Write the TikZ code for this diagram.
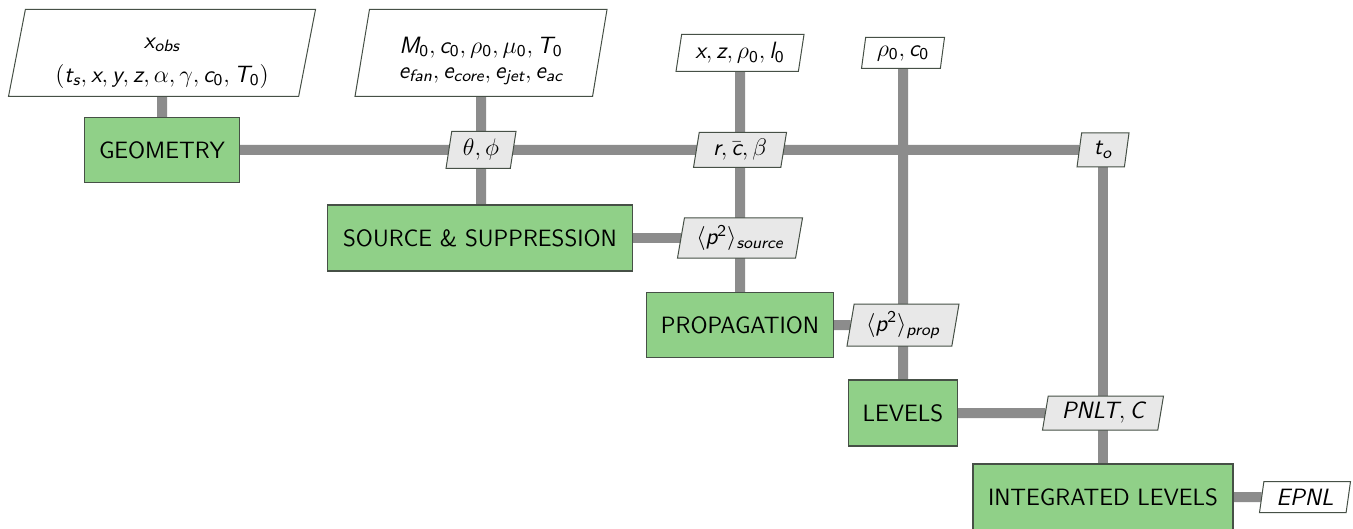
\documentclass[tikz,border=0pt]{standalone}
\usepackage{amsmath}
\usetikzlibrary{shapes.geometric,backgrounds}
\renewcommand\familydefault{\sfdefault}
% sans italic letters and upright sans digits inside formulas
\newcommand\mi[1]{\text{\itshape #1}}
\newcommand\zr{\text{0}}
\newcommand\labelfont{\fontsize{11.8}{14.5}\selectfont}
% two centred lines (#2 extra gap between them), shifted by #1 inside their box
\newcommand\twolines[4]{\raisebox{#1}[\height][\depth]{\begin{tabular}{@{}c@{}}#3\\[#2]#4\end{tabular}}}

\definecolor{boxgreen}{RGB}{144,208,136}
\definecolor{boxedge}{RGB}{70,80,70}
\definecolor{paramgray}{RGB}{232,232,232}
\definecolor{linkgray}{RGB}{140,140,140}

\tikzset{
  block/.style={rectangle, draw=boxedge, line width=0.6pt, fill=boxgreen,
    inner sep=0pt, outer sep=0pt},
  param/.style={trapezium, trapezium left angle=75, trapezium right angle=105,
    trapezium stretches body, draw=boxedge, line width=0.5pt,
    inner sep=0pt, outer sep=0pt, align=center},
  inparam/.style={param, fill=white},
  midparam/.style={param, fill=paramgray},
  link/.style={draw=linkgray, line width=5pt},
}

\begin{document}
\begin{tikzpicture}[x=0.5pt, y=-0.5pt, every node/.style={font=\labelfont}]
\useasboundingbox (0,0) rectangle (1353,529);

% inputs
\node[inparam, minimum width=153.5pt, minimum height=43.5pt] (obs) at (162,53)
  {\twolines{-3.25pt}{2.5pt}{$\mi{x}_{\mi{obs}}$}{$(\mi{t}_{\mi{s}},\mi{x},\mi{y},\mi{z},\alpha,\gamma,\mi{c}_{\zr},\mi{T}_{\zr})$}};
\node[inparam, minimum width=126pt, minimum height=43.5pt] (atm) at (481,53)
  {\twolines{-3.5pt}{-2pt}{$\mi{M}_{\zr},\mi{c}_{\zr},\rho_{\zr},\mu_{\zr},\mi{T}_{\zr}$}{$\mi{e}_{\mi{fan}},\mi{e}_{\mi{core}},\mi{e}_{\mi{jet}},\mi{e}_{\mi{ac}}$}};
\node[inparam, minimum width=64pt, minimum height=18.5pt] (xz) at (740,53)
  {$\mi{x},\mi{z},\rho_{\zr},\mi{l}_{\zr}$};
\node[inparam, minimum width=41.5pt, minimum height=15.5pt] (rc) at (903,53)
  {$\rho_{\zr},\mi{c}_{\zr}$};

% processing blocks
\node[block, minimum width=77.5pt, minimum height=32.5pt] (geo) at (162,150) {GEOMETRY};
\node[block, minimum width=152.5pt, minimum height=33pt] (src) at (480,238) {SOURCE \& SUPPRESSION};
\node[block, minimum width=93.5pt, minimum height=32.5pt] (prop) at (740,325) {PROPAGATION};
\node[block, minimum width=54.5pt, minimum height=33pt] (lev) at (903,413) {LEVELS};
\node[block, minimum width=130pt, minimum height=33pt] (int) at (1103,497) {INTEGRATED LEVELS};

% intermediate quantities
\node[midparam, minimum width=35pt, minimum height=18.5pt] (thph) at (481,150) {$\theta,\phi$};
\node[midparam, minimum width=46.5pt, minimum height=17.5pt] (rcb) at (740,150) {$\mi{r},\bar{\mi{c}},\beta$};
\node[midparam, minimum width=26pt, minimum height=17pt] (to) at (1103,150) {$\mi{t}_{\mi{o}}$};
\node[midparam, minimum width=62.5pt, minimum height=20pt] (psrc) at (740,238)
  {$\langle \mi{p}^{\text{2}}\rangle_{\mi{source}}$};
\node[midparam, minimum width=56pt, minimum height=21pt] (pprop) at (903,325)
  {$\langle \mi{p}^{\text{2}}\rangle_{\mi{prop}}$};
\node[midparam, minimum width=60.5pt, minimum height=17pt] (pnlt) at (1103,413)
  {$\mi{PNLT},\mi{C}$};

% output
\node[inparam, minimum width=45.5pt, minimum height=15.5pt] (epnl) at (1305,497) {$\mi{EPNL}$};

% connectors behind the nodes
\begin{scope}[on background layer]
  \fill[white] (0,0) rectangle (1353,529);
  \draw[link] (obs) -- (geo);
  \draw[link] (geo) -- (to);
  \draw[link] (atm) -- (thph) -- (thph |- src.north);
  \draw[link] (xz) -- (prop);
  \draw[link] (rc) -- (pprop);
  \draw[link] (pprop) -- (lev);
  \draw[link] (src) -- (psrc);
  \draw[link] (prop) -- (pprop);
  \draw[link] (to) -- (int);
  \draw[link] (lev) -- (pnlt);
  \draw[link] (int) -- (epnl);
\end{scope}
\end{tikzpicture}
\end{document}
